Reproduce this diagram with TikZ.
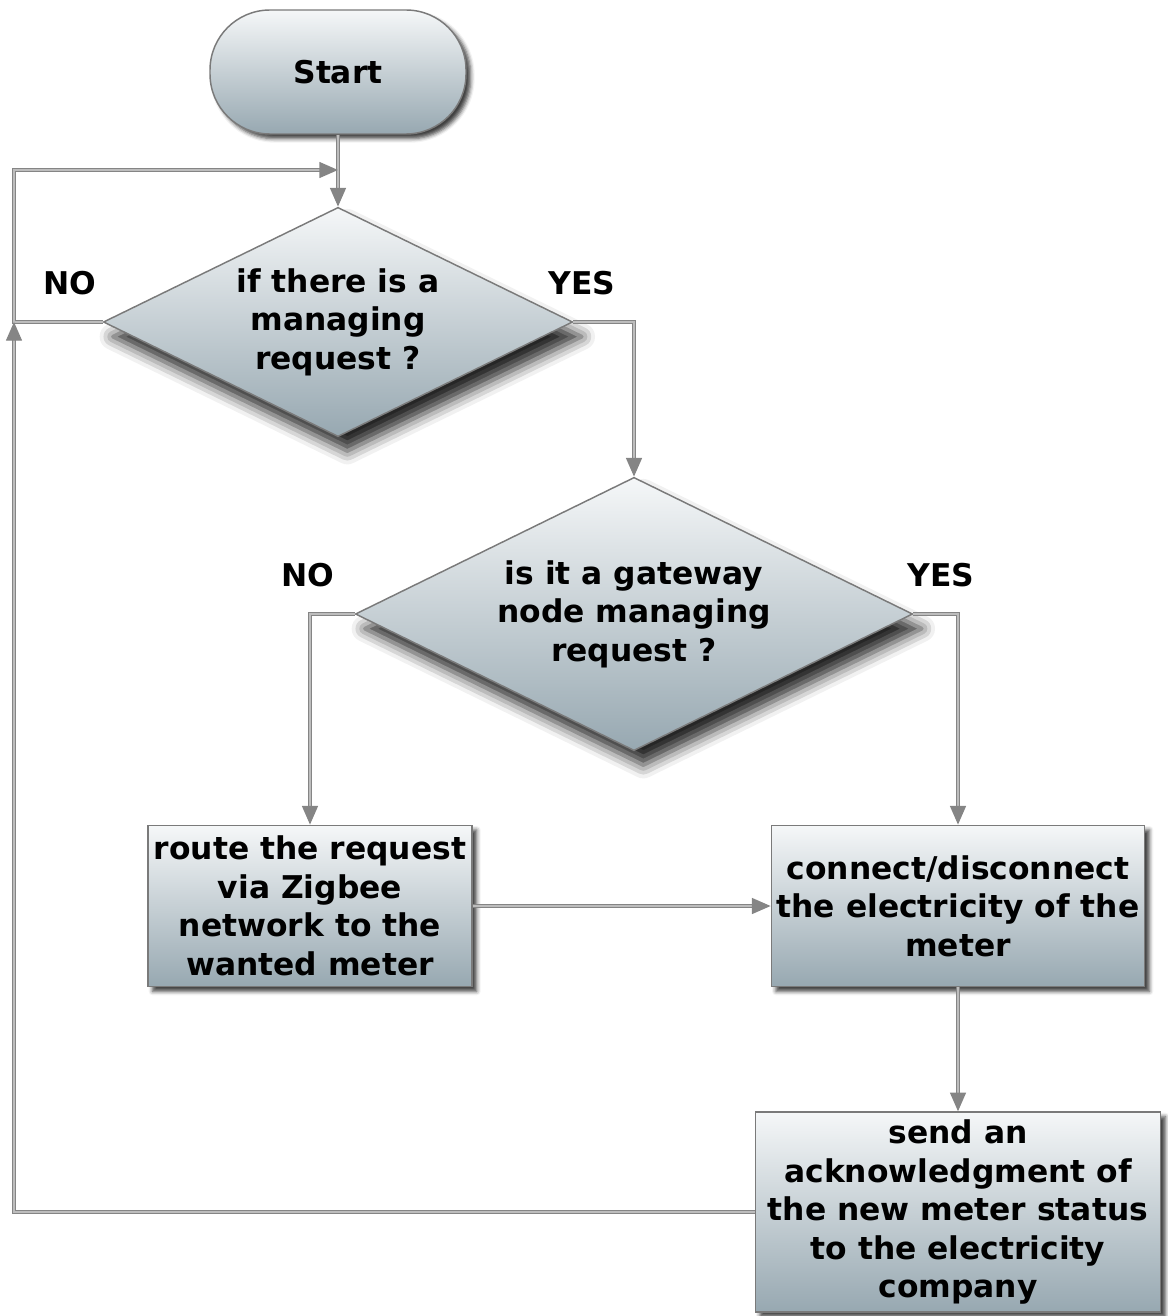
\documentclass[tikz,border=0pt]{standalone}
\usepackage{fontspec}
\setmainfont{DejaVu Sans}
\usetikzlibrary{shapes.geometric,arrows.meta,shadows.blur}
\definecolor{fillTop}{HTML}{F5F7F8}
\definecolor{fillBot}{HTML}{97A8B1}
\definecolor{edgeGray}{HTML}{7A7A7A}
\definecolor{lineGray}{HTML}{858585}
\definecolor{lineCore}{HTML}{BDBDBD}
\begin{document}
\begin{tikzpicture}[x=0.75pt,y=-0.75pt,
  txt/.style={font=\bfseries\fontsize{23.5}{28.9}\selectfont, text=black, align=center},
  shade box/.style={txt, top color=fillTop, bottom color=fillBot, draw=edgeGray, line width=1.1pt},
  soft shadow/.style={blur shadow={shadow xshift=3.5pt, shadow yshift=-3.5pt, shadow blur radius=3pt, shadow opacity=75}},
  big shadow/.style={blur shadow={shadow xshift=7pt, shadow yshift=-11pt, shadow blur radius=10pt, shadow opacity=85}},
  terminal/.style={shade box, soft shadow, rectangle, rounded corners=45pt, minimum width=192pt, minimum height=93pt},
  decision/.style={shade box, big shadow, diamond, aspect=2.04, inner sep=0pt},
  process/.style={shade box, soft shadow, rectangle, inner sep=0pt},
  conn/.style={draw=lineGray, double=lineCore, double distance=0.8pt, line width=1pt},
  arr/.style={conn, -{Triangle[length=14pt, width=12pt, fill=lineGray, color=lineGray]}},
  lbl/.style={font=\bfseries\fontsize{23.5}{26}\selectfont, text=black}
]
\useasboundingbox (0,0) rectangle (1167,1316);

% nodes
\node[terminal] (start) at (338,72) {Start};
\node[decision, minimum width=352pt, minimum height=172pt] (d1) at (338,322)
  {if there is a\\managing\\request ?};
\node[decision, minimum width=418pt, minimum height=205pt] (d2) at (634,614)
  {is it a gateway\\node managing\\request ?};
\node[process, minimum width=243pt, minimum height=121pt] (route) at (310,906)
  {route the request\\via Zigbee\\network to the\\wanted meter};
\node[process, minimum width=280pt, minimum height=121pt] (conn) at (958,906)
  {connect/disconnect\\the electricity of the\\meter};
\node[process, minimum width=304pt, minimum height=150pt] (send) at (958,1212)
  {send an\\acknowledgment of\\the new meter status\\to the electricity\\company};

% branch labels
\node[lbl] (no1) at (70,283) {NO};
\node[lbl] (yes1) at (582,283) {YES};
\node[lbl] (no2) at (308,575) {NO};
\node[lbl] (yes2) at (941,575) {YES};

% loop corner
\coordinate (loopTL) at (14,170);

% connectors
\draw[arr] (start.south) -- (d1.north);
\draw[arr] (d1.west) -- (d1.west -| loopTL) -- (loopTL) -- (loopTL -| start.south);
\draw[arr] (send.west) -| (loopTL |- d1.west);
\draw[arr] (d1.east) -| (d2.north);
\draw[arr] (d2.west) -| (route.north);
\draw[arr] (d2.east) -| (conn.north);
\draw[arr] (route.east) -- (conn.west);
\draw[arr] (conn.south) -- (send.north);
\end{tikzpicture}
\end{document}
